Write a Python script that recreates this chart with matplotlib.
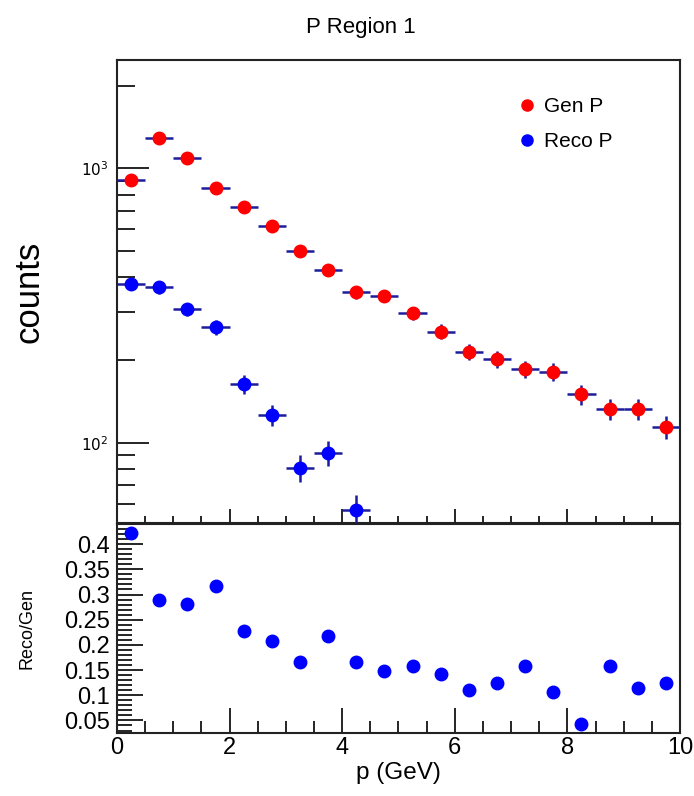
import numpy as np
import matplotlib
matplotlib.use("Agg")
import matplotlib.pyplot as plt
from matplotlib.lines import Line2D
from matplotlib.ticker import FixedLocator, MultipleLocator, NullFormatter

plt.rcParams['font.family'] = ['Liberation Sans', 'DejaVu Sans']

# bin centres (GeV), bin width 0.5
p_bins = [0.25, 0.75, 1.25, 1.75, 2.25, 2.75, 3.25, 3.75, 4.25, 4.75,
          5.25, 5.75, 6.25, 6.75, 7.25, 7.75, 8.25, 8.75, 9.25, 9.75]
gen_counts = [907, 1292, 1093, 844, 721, 615, 498, 426, 353, 343,
              296, 254, 214, 202, 185, 181, 150, 133, 133, 114]
reco_counts = [379, 368, 306, 264, 163, 126, 81, 92, 57, 50,
               47, 36, 24, 25, 29, 19, 6, 21, 15, 14]
ratio = [0.423, 0.289, 0.282, 0.317, 0.228, 0.207, 0.167, 0.217, 0.167, 0.149,
         0.159, 0.142, 0.111, 0.125, 0.159, 0.107, 0.043, 0.159, 0.115, 0.125]

ymin, ymax = 51, 2480

x = np.array(p_bins)
xerr = 0.25
gen = np.array(gen_counts)
reco = np.array(reco_counts)
# like ROOT, points whose centre is below the frame are not drawn
vis = reco > ymin

fig = plt.figure(figsize=(6.94, 7.96), dpi=100)
ax1 = fig.add_axes([0.1686, 0.3430, 0.8112, 0.5817])
ax2 = fig.add_axes([0.1686, 0.0791, 0.8112, 0.2626])

errc = '#1c1c9c'
ax1.errorbar(x, gen, xerr=xerr, yerr=np.sqrt(gen), fmt='o', color='red', ms=9,
             ecolor=errc, elinewidth=1.8, capsize=0, zorder=3)
ax1.errorbar(x[vis], reco[vis], xerr=xerr, yerr=np.sqrt(reco[vis]), fmt='o',
             color='blue', ms=9, ecolor=errc, elinewidth=1.8, capsize=0, zorder=3)
ax1.set_yscale('log')
ax1.set_xlim(0, 10)
ax1.set_ylim(ymin, ymax)
ax1.yaxis.set_major_locator(FixedLocator([100, 1000]))
ax1.set_yticklabels(['$10^{2}$', '$10^{3}$'], fontsize=11)
ax1.yaxis.set_minor_locator(FixedLocator([60, 70, 80, 90, 200, 300, 400, 500, 600,
                                          700, 800, 900, 2000]))
ax1.yaxis.set_minor_formatter(NullFormatter())
ax1.xaxis.set_major_locator(MultipleLocator(2))
ax1.xaxis.set_minor_locator(MultipleLocator(0.5))
ax1.tick_params(axis='x', which='both', direction='in', labelbottom=False)
ax1.tick_params(axis='x', which='major', length=10, width=1.2)
ax1.tick_params(axis='x', which='minor', length=5, width=1.2)
ax1.tick_params(axis='y', which='major', direction='in', length=23, width=1.2, pad=6)
ax1.tick_params(axis='y', which='minor', direction='in', length=13, width=1.2)
ax1.set_ylabel('counts', fontsize=25, va='center')
ax1.yaxis.set_label_coords(-0.157, 0.5)

handles = [Line2D([], [], ls='none', marker='o', color='red', ms=8),
           Line2D([], [], ls='none', marker='o', color='blue', ms=8)]
ax1.legend(handles, ['Gen P', 'Reco P'], loc='upper left',
           bbox_to_anchor=(0.667, 0.96), frameon=False, fontsize=15,
           handletextpad=0.05, labelspacing=0.75, handlelength=1.5)

ax2.plot(x, ratio, 'o', color='blue', ms=9)
ax2.set_xlim(0, 10)
ax2.set_ylim(0.025, 0.44)
ax2.yaxis.set_minor_locator(MultipleLocator(0.01))
ax2.set_yticks([0.05, 0.1, 0.15, 0.2, 0.25, 0.3, 0.35, 0.4])
ax2.set_yticklabels(['0.05', '0.1', '0.15', '0.2', '0.25', '0.3', '0.35', '0.4'])
ax2.xaxis.set_major_locator(MultipleLocator(2))
ax2.xaxis.set_minor_locator(MultipleLocator(0.5))
ax2.tick_params(axis='y', which='major', direction='in', length=19, width=1.2,
                labelsize=17, pad=5)
ax2.tick_params(axis='y', which='minor', direction='in', length=11, width=1.2)
ax2.tick_params(axis='x', which='major', direction='in', length=18, width=1.2,
                labelsize=17, pad=3)
ax2.tick_params(axis='x', which='minor', direction='in', length=9, width=1.2)
ax2.set_ylabel('Reco/Gen', fontsize=13, va='center')
ax2.yaxis.set_label_coords(-0.159, 0.5)
ax2.set_xlabel('p (GeV)', fontsize=17.5, labelpad=2)

for ax in (ax1, ax2):
    for s in ax.spines.values():
        s.set_linewidth(1.5)
        s.set_color('#222222')

fig.text(0.52, 0.965, 'P Region 1', ha='center', va='center', fontsize=16)

plt.savefig('out.png', dpi=100)
